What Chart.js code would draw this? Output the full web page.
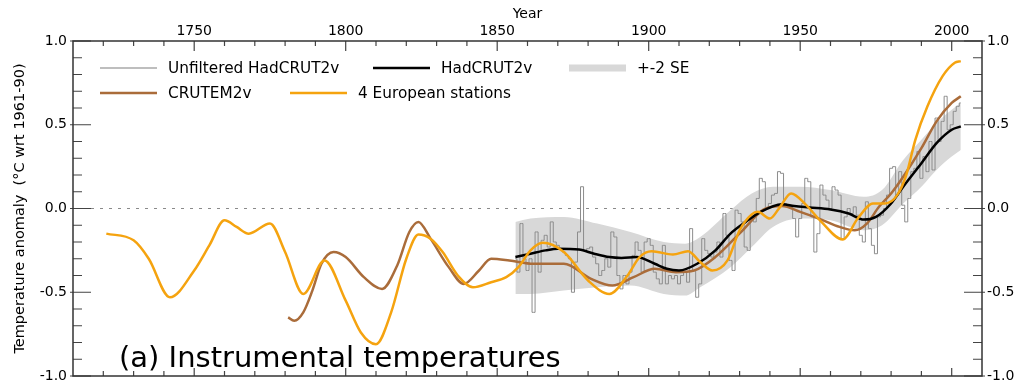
<!DOCTYPE html>
<html>
<head>
<meta charset="utf-8">
<script src="https://cdn.jsdelivr.net/npm/chart.js@4/dist/chart.umd.min.js"></script>
<style>
  html, body { margin: 0; padding: 0; background: #fff; }
</style>
</head>
<body>
<canvas id="tempChart" width="1016" height="381"></canvas>
<script>
// Axis tick labels
const yearTicks = [1750, 1800, 1850, 1900, 1950, 2000];
const anomalyTicks = [-1.0, -0.5, 0.0, 0.5, 1.0];

// Unfiltered HadCRUT2v, one value per year from 1856 to 2003
const unfilteredStart = 1856;
const unfilteredValues = [
  -0.30, -0.38, -0.09, -0.30, -0.37, -0.30, -0.62, -0.14, -0.38, -0.19,
  -0.16, -0.23, -0.08, -0.20, -0.22, -0.24, -0.26, -0.28, -0.30, -0.50,
  -0.32, -0.14, 0.13, -0.25, -0.24, -0.23, -0.29, -0.33, -0.40, -0.37,
  -0.30, -0.35, -0.14, -0.17, -0.40, -0.48, -0.40, -0.45, -0.38, -0.28,
  -0.20, -0.25, -0.38, -0.20, -0.18, -0.22, -0.38, -0.42, -0.45, -0.22,
  -0.45, -0.40, -0.42, -0.40, -0.45, -0.40, -0.38, -0.44, -0.12, -0.37,
  -0.53, -0.45, -0.18, -0.25, -0.27, -0.29, -0.26, -0.20, -0.29, -0.03,
  -0.16, -0.31, -0.37, -0.01, -0.03, -0.08, -0.23, -0.25, -0.06, -0.08,
  0.06, 0.18, 0.16, 0.00, 0.03, 0.08, 0.09, 0.22, 0.21, 0.03,
  0.02, 0.01, -0.06, -0.17, -0.06, 0.03, 0.18, 0.16, -0.05, -0.26,
  -0.15, 0.14, 0.08, 0.05, 0.00, 0.13, 0.11, 0.08, -0.18, -0.05,
  0.00, -0.03, 0.01, -0.04, -0.16, -0.20, 0.04, -0.12, -0.22, -0.27,
  -0.05, -0.04, 0.00, 0.08, 0.24, 0.25, 0.08, 0.22, 0.02, -0.08,
  0.06, 0.22, 0.24, 0.34, 0.18, 0.31, 0.22, 0.40, 0.23, 0.54,
  0.40, 0.52, 0.67, 0.47, 0.50, 0.58, 0.61, 0.63
];

// HadCRUT2v (smoothed)
const hadYears = [1856, 1861, 1866, 1870, 1877, 1882, 1887, 1891, 1896, 1902, 1906, 1910, 1916, 1922,
  1927, 1932, 1936, 1944, 1948, 1953, 1960, 1966, 1971, 1975, 1980, 1984, 1990, 1995, 2000, 2003];
const hadValues = [-0.29, -0.27, -0.25, -0.24, -0.245, -0.27, -0.29, -0.295, -0.29, -0.33, -0.36, -0.37, -0.33, -0.25,
  -0.15, -0.08, -0.03, 0.026, 0.015, 0.006, -0.006, -0.03, -0.066, -0.05, 0.03, 0.13, 0.27, 0.39, 0.47, 0.49];

// +-2 SE band around HadCRUT2v
const seYears = [1856, 1861, 1872, 1883, 1894, 1905, 1912, 1917, 1927, 1934, 1941, 1950, 1960, 1971, 1977,
  1984, 1990, 1995, 2000, 2003];
const seUpper = [-0.08, -0.06, -0.05, -0.09, -0.14, -0.20, -0.21, -0.17, -0.01, 0.09, 0.13, 0.13, 0.11, 0.07, 0.11,
  0.29, 0.41, 0.51, 0.59, 0.63];
const seLower = [-0.51, -0.51, -0.49, -0.47, -0.46, -0.51, -0.52, -0.47, -0.35, -0.23, -0.11, -0.06, -0.07, -0.13, -0.10,
  0.03, 0.13, 0.23, 0.31, 0.35];

// CRUTEM2v (smoothed)
const crutemYears = [1781, 1783, 1786, 1789, 1792, 1796, 1800, 1806, 1812, 1817, 1821, 1824, 1828, 1834, 1839,
  1844, 1848, 1854, 1862, 1872, 1881, 1888, 1895, 1902, 1909, 1915, 1922, 1931, 1938, 1944, 1950, 1957,
  1963, 1968, 1972, 1976, 1980, 1984, 1990, 1995, 2000, 2003];
const crutemValues = [-0.65, -0.67, -0.62, -0.49, -0.33, -0.26, -0.29, -0.41, -0.48, -0.34, -0.14, -0.08, -0.18, -0.35, -0.45,
  -0.37, -0.30, -0.31, -0.33, -0.33, -0.42, -0.46, -0.41, -0.36, -0.38, -0.37, -0.29, -0.13, -0.005, 0.015, -0.02, -0.066,
  -0.11, -0.13, -0.09, 0.01, 0.09, 0.19, 0.36, 0.52, 0.63, 0.67];

// 4 European stations (smoothed)
const europeYears = [1721, 1730, 1735, 1742, 1750, 1755, 1760, 1764, 1768, 1775, 1780, 1786, 1793, 1800, 1805,
  1810, 1815, 1820, 1824, 1828, 1832, 1837, 1842, 1848, 1853, 1857, 1861, 1865, 1872, 1880, 1887, 1893,
  1897, 1901, 1908, 1913, 1917, 1921, 1926, 1930, 1934, 1936, 1940, 1943, 1947, 1952, 1957, 1964, 1969,
  1974, 1978, 1982, 1985, 1988, 1992, 1997, 2001, 2003];
const europeValues = [-0.15, -0.19, -0.30, -0.53, -0.37, -0.22, -0.07, -0.11, -0.15, -0.09, -0.26, -0.51, -0.31, -0.55, -0.74,
  -0.81, -0.62, -0.30, -0.155, -0.18, -0.26, -0.40, -0.47, -0.44, -0.41, -0.35, -0.25, -0.205, -0.26, -0.43, -0.51, -0.40,
  -0.29, -0.255, -0.275, -0.255, -0.32, -0.37, -0.31, -0.13, -0.035, -0.02, -0.06, 0.0, 0.09, 0.02, -0.08, -0.185, -0.06,
  0.03, 0.03, 0.08, 0.20, 0.41, 0.61, 0.79, 0.87, 0.88];

const FONT = "'DejaVu Sans', sans-serif";
const ORANGE = 'rgb(245,163,15)';
const BROWN = 'rgb(170,108,58)';
const BAND = 'rgb(216,216,216)';
const STEP = 'rgb(140,140,140)';

const toPts = (xs, ys) => xs.map((x, i) => ({ x: x, y: ys[i] }));
const unfilteredPts = unfilteredValues.map((v, i) => ({ x: unfilteredStart + i, y: v }));

// Frame, inward ticks, zero line, legend and panel label
const decorations = {
  id: 'decorations',
  beforeDatasetsDraw(chart) {
    const { ctx, chartArea } = chart;
    const y0 = chart.scales.y.getPixelForValue(0);
    ctx.save();
    ctx.strokeStyle = '#8a8a8a';
    ctx.lineWidth = 1;
    ctx.setLineDash([3, 6]);
    ctx.beginPath();
    ctx.moveTo(chartArea.left, y0);
    ctx.lineTo(chartArea.right, y0);
    ctx.stroke();
    ctx.restore();
  },
  afterDatasetsDraw(chart) {
    const { ctx, chartArea } = chart;
    const xs = chart.scales.x, ys = chart.scales.y;
    ctx.save();
    ctx.strokeStyle = '#444';
    ctx.lineWidth = 1.2;
    ctx.beginPath();
    for (let yr = 1720; yr <= 2000; yr += 10) {
      const px = xs.getPixelForValue(yr);
      const major = yr % 50 === 0;
      ctx.moveTo(px, chartArea.top);
      ctx.lineTo(px, chartArea.top + (major ? 10 : 5));
      ctx.moveTo(px, chartArea.bottom);
      ctx.lineTo(px, chartArea.bottom - (major ? 8 : 5));
    }
    for (let k = -10; k <= 10; k++) {
      const py = ys.getPixelForValue(k / 10);
      const major = k % 5 === 0;
      ctx.moveTo(chartArea.left - (major ? 3 : 0), py);
      ctx.lineTo(chartArea.left + (major ? 18 : 9), py);
      ctx.moveTo(chartArea.right + (major ? 3 : 0), py);
      ctx.lineTo(chartArea.right - (major ? 18 : 9), py);
    }
    ctx.stroke();
    ctx.strokeStyle = '#333';
    ctx.lineWidth = 1.5;
    ctx.strokeRect(chartArea.left, chartArea.top, chartArea.right - chartArea.left, chartArea.bottom - chartArea.top);

    // legend
    const rows = [
      { y: 68, items: [{ ds: 3, x: 100, color: 'rgb(190,190,190)', w: 2 }, { ds: 1, x: 373 }, { ds: 4, x: 569, color: BAND, w: 7 }] },
      { y: 93, items: [{ ds: 2, x: 100 }, { ds: 0, x: 290 }] }
    ];
    ctx.font = '15.3px ' + FONT;
    ctx.textBaseline = 'middle';
    ctx.fillStyle = '#000';
    rows.forEach(row => {
      row.items.forEach(it => {
        const ds = chart.data.datasets[it.ds];
        ctx.strokeStyle = it.color || ds.borderColor;
        ctx.lineWidth = it.w || 2.5;
        ctx.beginPath();
        ctx.moveTo(it.x, row.y);
        ctx.lineTo(it.x + 57, row.y);
        ctx.stroke();
        ctx.fillText(ds.label, it.x + 68, row.y + 1);
      });
    });

    ctx.font = '29px ' + FONT;
    ctx.textBaseline = 'alphabetic';
    ctx.fillText('(a) Instrumental temperatures', 119, 367);
    ctx.restore();
  }
};

const tickFont = { family: FONT, size: 14 };
const noEdgePadding = s => { s.paddingTop = 0; s.paddingBottom = 0; };

new Chart(document.getElementById('tempChart'), {
  type: 'line',
  data: {
    datasets: [
      { label: '4 European stations', data: toPts(europeYears, europeValues), borderColor: ORANGE, borderWidth: 2.5,
        pointRadius: 0, cubicInterpolationMode: 'monotone', fill: false },
      { label: 'HadCRUT2v', data: toPts(hadYears, hadValues), borderColor: '#000', borderWidth: 2.5,
        pointRadius: 0, cubicInterpolationMode: 'monotone', fill: false },
      { label: 'CRUTEM2v', data: toPts(crutemYears, crutemValues), borderColor: BROWN, borderWidth: 2.5,
        pointRadius: 0, cubicInterpolationMode: 'monotone', fill: false },
      { label: 'Unfiltered HadCRUT2v', data: unfilteredPts, borderColor: STEP, borderWidth: 1,
        pointRadius: 0, stepped: 'middle', fill: false },
      { label: '+-2 SE', data: toPts(seYears, seUpper), borderColor: 'transparent', borderWidth: 0,
        backgroundColor: BAND, pointRadius: 0, cubicInterpolationMode: 'monotone', fill: '+1' },
      { label: 'SE lower', data: toPts(seYears, seLower), borderColor: 'transparent', borderWidth: 0,
        pointRadius: 0, cubicInterpolationMode: 'monotone', fill: false }
    ]
  },
  options: {
    responsive: false,
    devicePixelRatio: 1,
    animation: false,
    layout: { padding: { left: 0, right: 0, top: 0, bottom: 5 } },
    plugins: { legend: { display: false }, tooltip: { enabled: false } },
    scales: {
      x: {
        type: 'linear', position: 'top', min: 1710, max: 2010,
        grid: { display: false, drawTicks: false }, border: { display: false },
        afterBuildTicks: s => { s.ticks = yearTicks.map(v => ({ value: v })); },
        afterFit: s => { s.height = 41; s.paddingLeft = 0; s.paddingRight = 0; },
        ticks: { font: tickFont, color: '#000', padding: 1, maxRotation: 0, autoSkip: false, callback: v => String(v) },
        title: { display: true, text: 'Year', color: '#000', font: { family: FONT, size: 14 }, padding: { top: 6, bottom: 0 } }
      },
      y: {
        position: 'left', min: -1, max: 1,
        grid: { display: false, drawTicks: false }, border: { display: false },
        afterBuildTicks: s => { s.ticks = anomalyTicks.map(v => ({ value: v })); },
        afterFit: s => { s.width = 73; noEdgePadding(s); },
        ticks: { font: tickFont, color: '#000', padding: 6, callback: v => v.toFixed(1) },
        title: { display: true, text: 'Temperature anomaly  (°C wrt 1961-90)', color: '#000',
          font: { family: FONT, size: 14.5 }, padding: { top: 12, bottom: 0 } }
      },
      y2: {
        position: 'right', min: -1, max: 1,
        grid: { display: false, drawTicks: false }, border: { display: false },
        afterBuildTicks: s => { s.ticks = anomalyTicks.map(v => ({ value: v })); },
        afterFit: s => { s.width = 34; noEdgePadding(s); },
        ticks: { font: tickFont, color: '#000', padding: 5, callback: v => v.toFixed(1) }
      }
    }
  },
  plugins: [decorations]
});
</script>
</body>
</html>
